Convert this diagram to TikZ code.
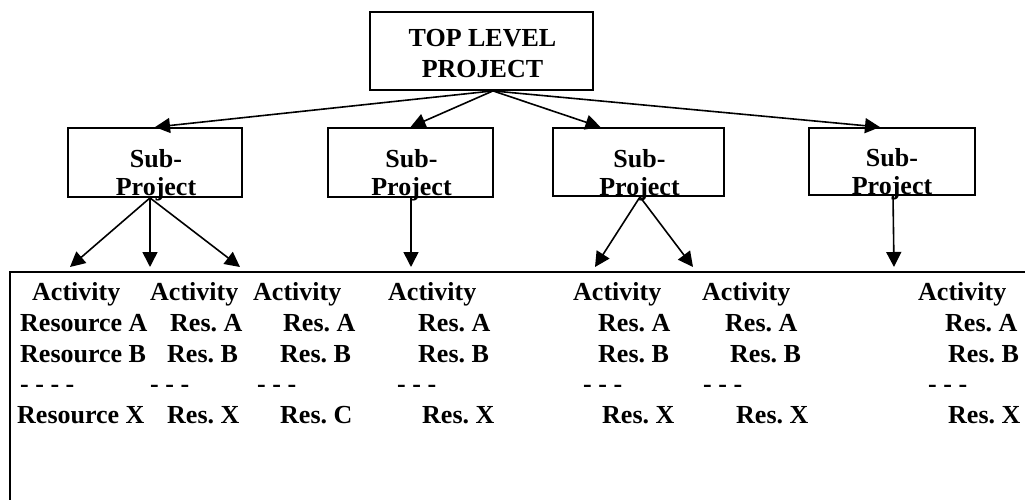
\documentclass[tikz,border=0pt]{standalone}
\usepackage{fontspec}
\setmainfont{Liberation Serif}
\usetikzlibrary{arrows.meta, calc}
\frenchspacing

\begin{document}
\begin{tikzpicture}[x=1pt, y=-1pt,
    box/.style={draw, line width=1.8pt, inner sep=0pt},
    boxtext/.style={font=\fontsize{26}{28}\selectfont\bfseries, align=center, inner sep=0pt},
    item/.style={font=\fontsize{26}{31}\selectfont\bfseries, anchor=base west, inner sep=0pt},
    link/.style={line width=1.6pt, -{Triangle[length=15pt, width=15pt]}}]
    \useasboundingbox (0,0) rectangle (1025,500);
    % project boxes
    \node[box, minimum width=223pt, minimum height=78pt] (top) at (481.5,51) {};
    \node[boxtext, font=\fontsize{26}{31}\selectfont\bfseries] (toptext) at ($(top.center)+(1,2.5)$) {TOP LEVEL\\PROJECT};
    \node[box, minimum width=174pt, minimum height=69pt] (sub1) at (155,162.5) {};
    \node[box, minimum width=165pt, minimum height=69pt] (sub2) at (410.5,162.5) {};
    \node[box, minimum width=171pt, minimum height=68pt] (sub3) at (638.5,162) {};
    \node[box, minimum width=166pt, minimum height=67pt] (sub4) at (892,161.5) {};
    \node[boxtext, anchor=south] (sub1text) at ($(sub1.south)+(1,3.5)$) {Sub-\\Project};
    \node[boxtext, anchor=south] (sub2text) at ($(sub2.south)+(1,3.5)$) {Sub-\\Project};
    \node[boxtext, anchor=south] (sub3text) at ($(sub3.south)+(1,4.5)$) {Sub-\\Project};
    \node[boxtext, anchor=south] (sub4text) at ($(sub4.south)+(0,4)$) {Sub-\\Project};
    % activity frame
    \draw[line width=2.6pt] (10,510) |- (1035,272);
    \coordinate (apex) at ($(top.south)+(11.5,0)$);
    \coordinate (sub1out) at ($(sub1.south)+(-5,0)$);
    \coordinate (sub2out) at ($(sub2.south)+(0.5,0)$);
    \coordinate (sub3out) at ($(sub3.south)+(1.5,0)$);
    \coordinate (sub4out) at ($(sub4.south)+(1,0)$);
    \coordinate (col1) at (70,267);
    \coordinate (col2) at (150,267);
    \coordinate (col3) at (240,267);
    \coordinate (col4) at (411,267);
    \coordinate (col5) at (595,267);
    \coordinate (col6) at (693,267);
    \coordinate (col7) at (894,267);
    % arrows
    \draw[link] (apex) -- (sub1.north);
    \draw[link] (apex) -- (sub2.north);
    \draw[link] (apex) -- ($(sub3.north)+(-38,0)$);
    \draw[link] (apex) -- ($(sub4.north)+(-12,0)$);
    \draw[link] (sub1out) -- (col1);
    \draw[link] (sub1out) -- (col2);
    \draw[link] (sub1out) -- (col3);
    \draw[link] (sub2out) -- (col4);
    \draw[link] (sub3out) -- (col5);
    \draw[link] (sub3out) -- (col6);
    \draw[link] (sub4out) -- (col7);
    % activities
    \node[item] (act1) at (32,300) {Activity};
    \node[item] (resa1) at (20,331) {Resource A};
    \node[item] (resb1) at (20,362) {Resource B};
    \node[item] (gap1) at (20,392.5) {- - - -};
    \node[item] (resx1) at (17,423) {Resource X};
    \node[item] (act2) at (150,300) {Activity};
    \node[item] (resa2) at (170,331) {Res. A};
    \node[item] (resb2) at (167,362) {Res. B};
    \node[item] (gap2) at (150,392.5) {- - -};
    \node[item] (resx2) at (167,423) {Res. X};
    \node[item] (act3) at (253,300) {Activity};
    \node[item] (resa3) at (283,331) {Res. A};
    \node[item] (resb3) at (280,362) {Res. B};
    \node[item] (gap3) at (257,392.5) {- - -};
    \node[item] (resc3) at (280,423) {Res. C};
    \node[item] (act4) at (388,300) {Activity};
    \node[item] (resa4) at (418,331) {Res. A};
    \node[item] (resb4) at (418,362) {Res. B};
    \node[item] (gap4) at (397,392.5) {- - -};
    \node[item] (resx4) at (422,423) {Res. X};
    \node[item] (act5) at (573,300) {Activity};
    \node[item] (resa5) at (598,331) {Res. A};
    \node[item] (resb5) at (598,362) {Res. B};
    \node[item] (gap5) at (583,392.5) {- - -};
    \node[item] (resx5) at (602,423) {Res. X};
    \node[item] (act6) at (702,300) {Activity};
    \node[item] (resa6) at (725,331) {Res. A};
    \node[item] (resb6) at (730,362) {Res. B};
    \node[item] (gap6) at (703,392.5) {- - -};
    \node[item] (resx6) at (736,423) {Res. X};
    \node[item] (act7) at (918,300) {Activity};
    \node[item] (resa7) at (945,331) {Res. A};
    \node[item] (resb7) at (948,362) {Res. B};
    \node[item] (gap7) at (928,392.5) {- - -};
    \node[item] (resx7) at (948,423) {Res. X};
\end{tikzpicture}
\end{document}
